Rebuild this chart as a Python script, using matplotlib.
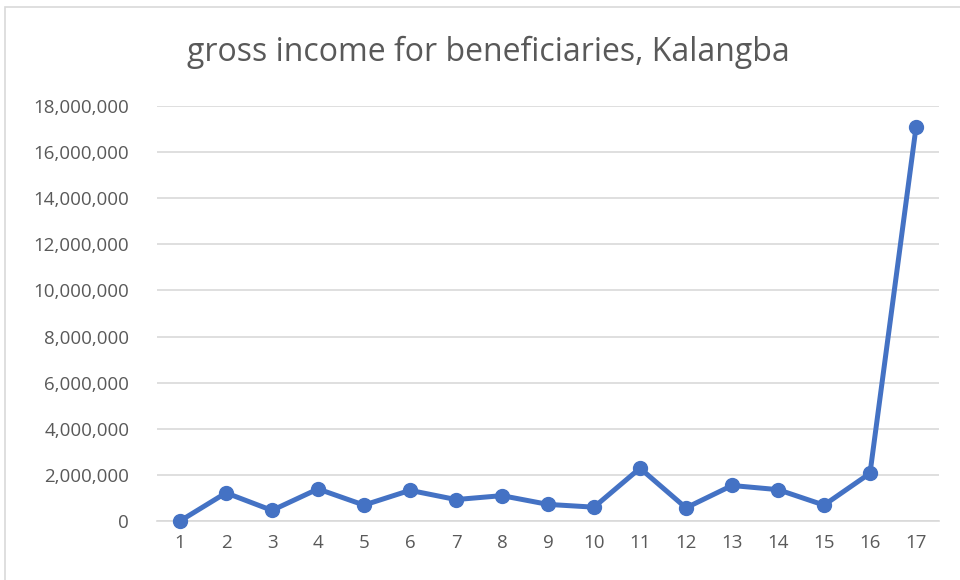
import matplotlib.pyplot as plt
from matplotlib.patches import Rectangle
from matplotlib.ticker import FuncFormatter

# gross income per beneficiary, Kalangba
beneficiaries = list(range(1, 18))
income = [0, 1220000, 460000, 1390000, 690000, 1330000, 930000, 1100000,
          720000, 600000, 2290000, 570000, 1540000, 1360000, 690000,
          2070000, 17070000]
y_ticks = list(range(0, 18000001, 2000000))

plt.rcParams['font.family'] = ['Open Sans', 'DejaVu Sans']

fig = plt.figure(figsize=(9.6, 5.8), dpi=100)
ax = fig.add_axes([157 / 960, 1 - 521 / 580, (939 - 157) / 960, (521 - 106) / 580])

# light border round the chart area
fig.patches.append(Rectangle((5 / 960, -0.05), 1.1, 1 - 7 / 580 + 0.05,
                             transform=fig.transFigure, fill=False,
                             edgecolor='#D9D9D9', linewidth=1.2))

ax.plot(beneficiaries, income, color='#4472C4', linewidth=3.6,
        marker='o', markersize=10, solid_capstyle='round', zorder=3,
        clip_on=False)

ax.set_xlim(0.5, 17.5)
ax.set_ylim(0, 18000000)
ax.set_xticks(beneficiaries)
ax.set_yticks(y_ticks)
ax.yaxis.set_major_formatter(FuncFormatter(lambda v, p: f'{int(v):,}'))
ax.tick_params(length=0, labelsize=13.5, colors='#595959', pad=9)
ax.tick_params(axis='y', pad=20)

ax.grid(axis='y', color='#D9D9D9', linewidth=1.2)
ax.set_axisbelow(True)
for side in ['top', 'right', 'left']:
    ax.spines[side].set_visible(False)
ax.spines['bottom'].set_color('#D9D9D9')
ax.spines['bottom'].set_linewidth(1.2)

fig.text(488 / 960, 1 - 52 / 580, 'gross income for beneficiaries, Kalangba',
         ha='center', va='center', fontsize=23, color='#595959')

fig.savefig('out.png', dpi=100)
